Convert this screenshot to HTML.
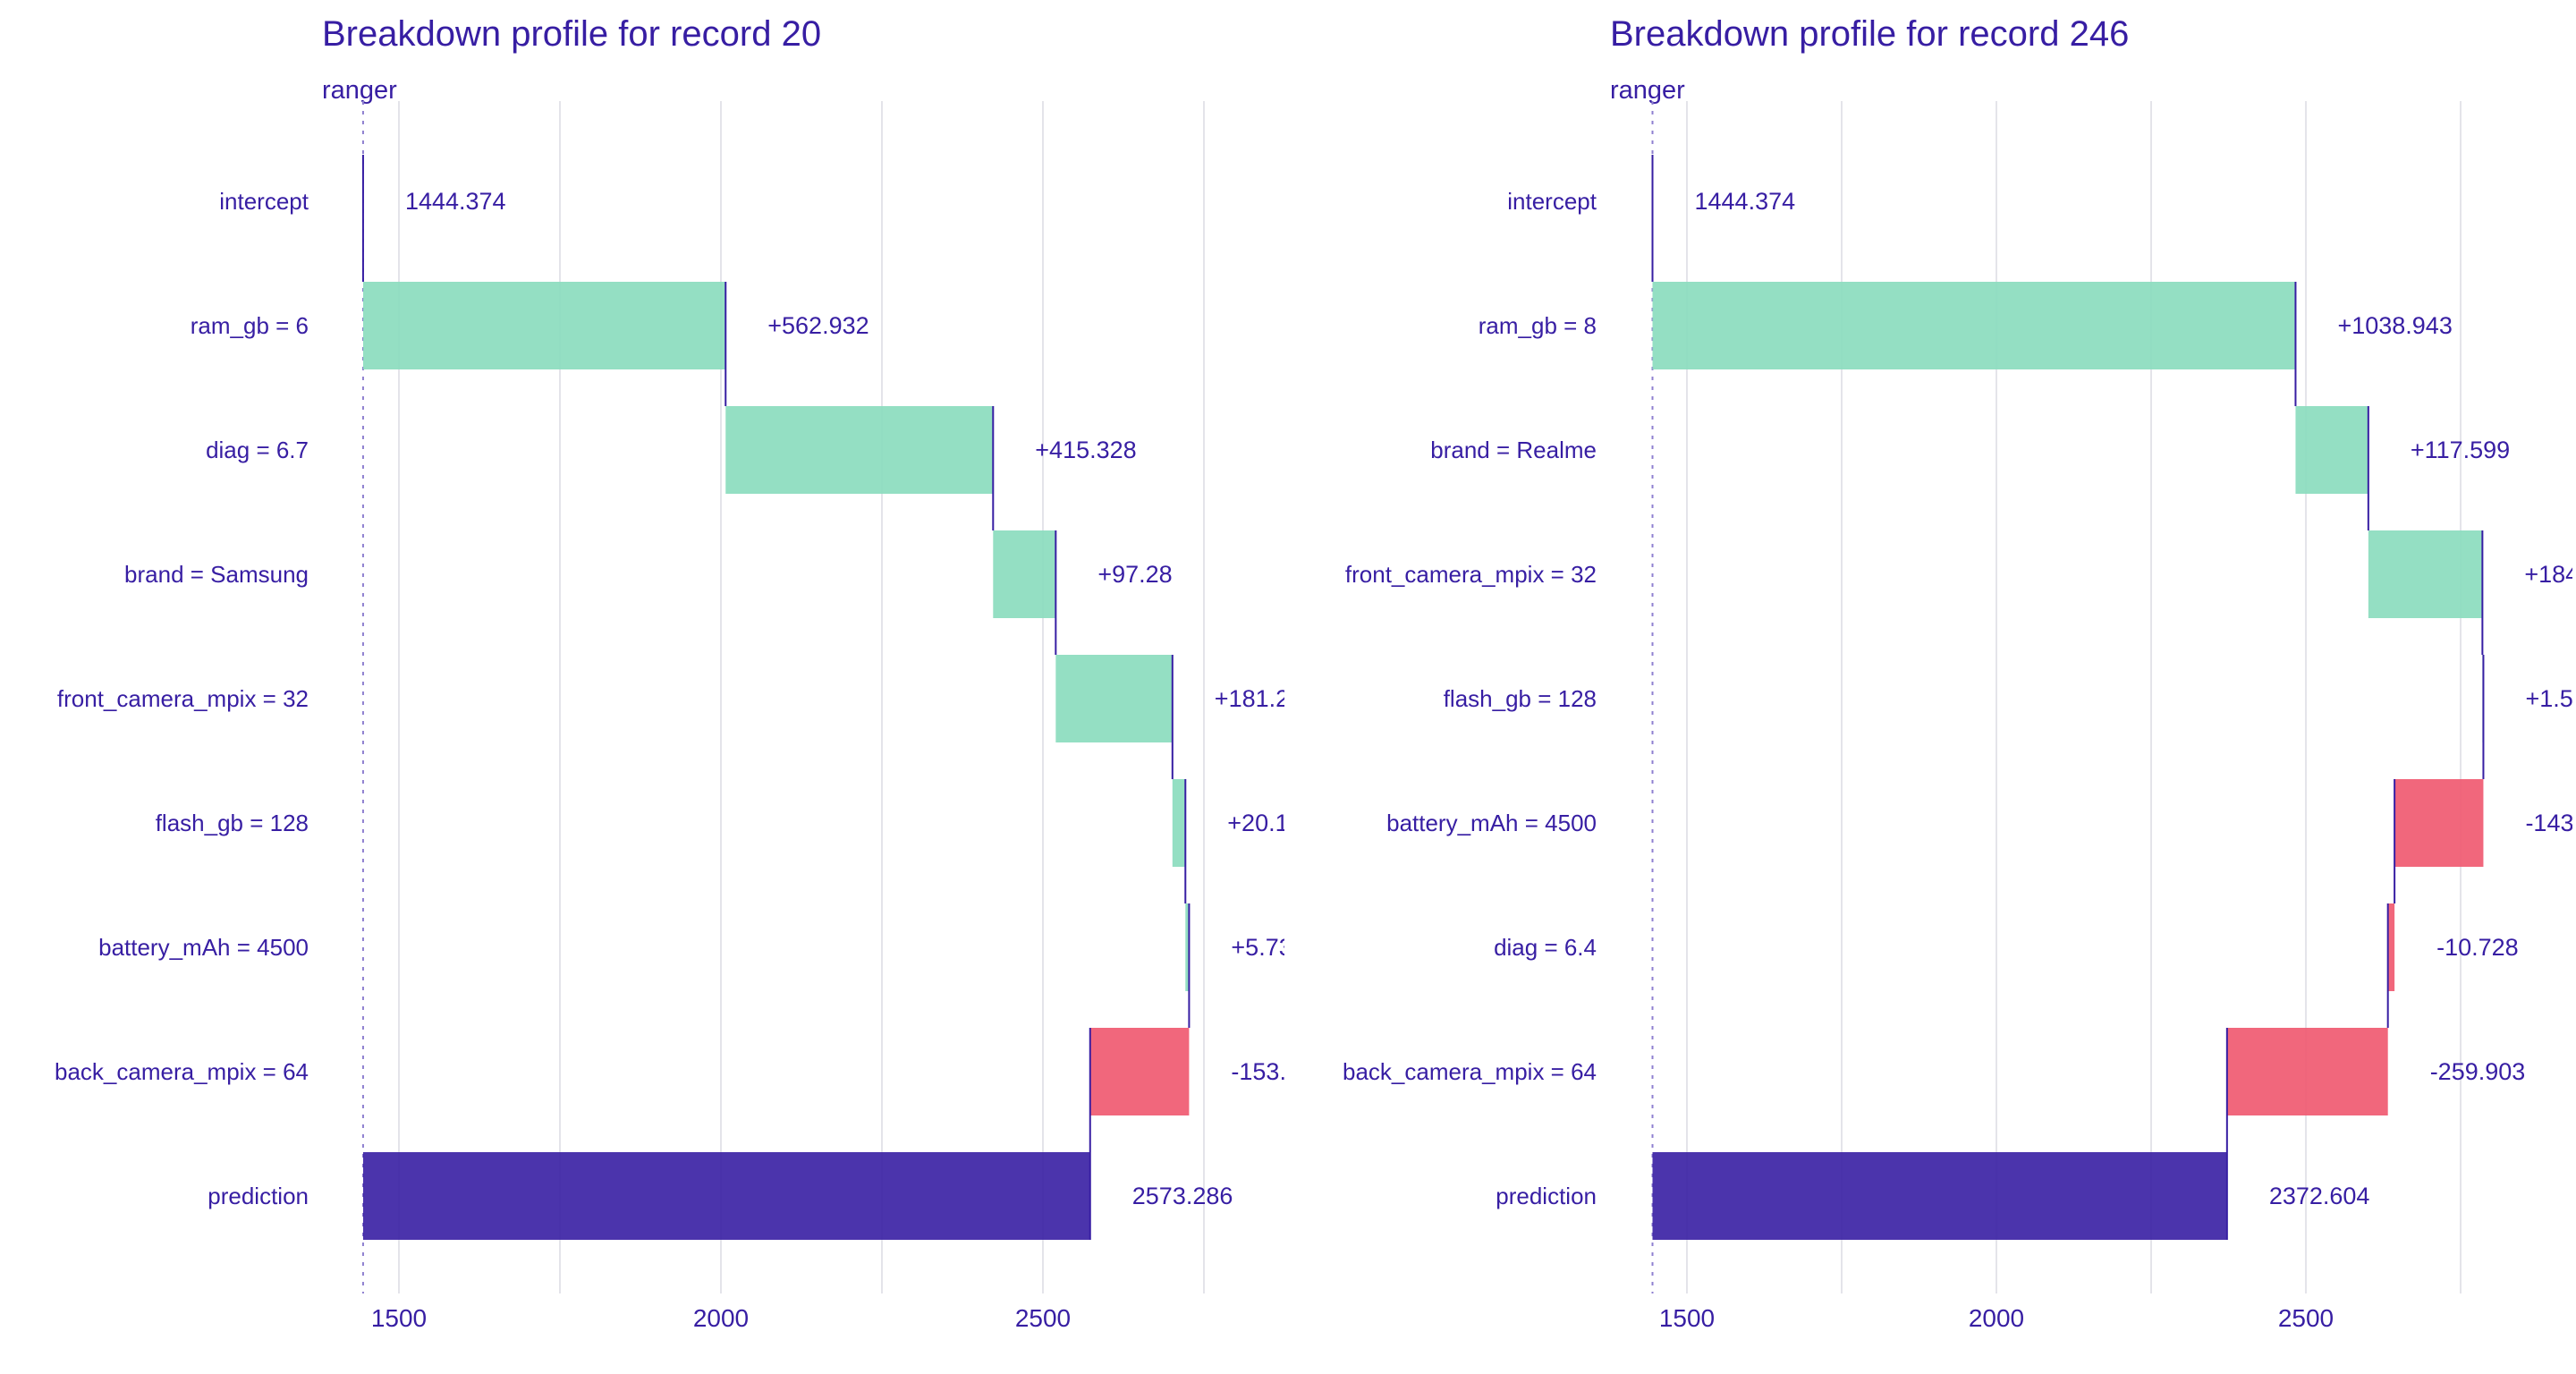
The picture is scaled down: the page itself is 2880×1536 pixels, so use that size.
<!DOCTYPE html>
<html><head><meta charset="utf-8"><style>
html,body{margin:0;padding:0;background:#fff;}
svg{display:block;font-family:"Liberation Sans",Arial,sans-serif;}
</style></head><body>
<svg id="chart" width="2880" height="1536" viewBox="0 0 2880 1536"></svg>
<script>
// Panel 1 data (record 20)
const labels1 = ["intercept","ram_gb = 6","diag = 6.7","brand = Samsung","front_camera_mpix = 32","flash_gb = 128","battery_mAh = 4500","back_camera_mpix = 64","prediction"];
const values1 = [1444.374, 562.932, 415.328, 97.28, 181.214, 20.108, 5.731, -153.681, 2573.286];
const texts1 = ["1444.374","+562.932","+415.328","+97.28","+181.214","+20.108","+5.731","-153.681","2573.286"];
// Panel 2 data (record 246)
const labels2 = ["intercept","ram_gb = 8","brand = Realme","front_camera_mpix = 32","flash_gb = 128","battery_mAh = 4500","diag = 6.4","back_camera_mpix = 64","prediction"];
const values2 = [1444.374, 1038.943, 117.599, 184.3, 1.55, -143.531, -10.728, -259.903, 2372.604];
const texts2 = ["1444.374","+1038.943","+117.599","+184.3","+1.55","-143.531","-10.728","-259.903","2372.604"];
const ticks = [1500, 2000, 2500];
const grid = [1500, 1750, 2000, 2250, 2500, 2750];

const NS = "http://www.w3.org/2000/svg";
const svg = document.getElementById("chart");
function mk(tag, attrs, parent){const e=document.createElementNS(NS,tag);for(const k in attrs)e.setAttribute(k,attrs[k]);parent.appendChild(e);return e;}

function panel(ox, width, title, labels, values, texts, x1500, pxPerUnit, id){
  const g = mk("g", {}, svg);
  
  
  const clipId = "clip" + id;
  const cp = mk("clipPath", {id: clipId}, g);
  mk("rect", {x: ox, y: 0, width: width - 4, height: 1536}, cp);
  const x = v => ox + x1500 + (v - 1500) * pxPerUnit;
  const rowY = i => 225 + i * 139;
  const BH = 98;
  const t = mk("text", {x: ox + 360, y: 51, "font-size": 40, fill: "#371ea3"}, g);
  t.textContent = title;
  
  
  const s = mk("text", {x: ox + 360, y: 110, "font-size": 29, fill: "#371ea3"}, g);
  s.textContent = "ranger";
  
  
  const plot = mk("g", {"clip-path": "url(#" + clipId + ")"}, g);
  grid.forEach(v => {
    const l = mk("line", {x1: x(v), x2: x(v), y1: 113, y2: 1446, stroke: "#e4e4ea", "stroke-width": 2}, plot);
    
    
  });
  const base = values[0];
  const dl = mk("line", {x1: x(base), x2: x(base), y1: 113, y2: 1446, stroke: "#8f80d0", "stroke-width": 2, "stroke-dasharray": "4,7"}, plot);
  
  
  let cum = base;
  const n = labels.length;
  for (let i = 0; i < n; i++) {
    let start, end, fill;
    if (i === 0) { start = base; end = base; fill = "#371ea3"; }
    else if (i === n - 1) { start = base; end = values[i]; fill = "#371ea3"; }
    else { start = cum; end = cum + values[i]; fill = values[i] >= 0 ? "#8bdcbe" : "#f05a71"; cum = end; }
    const y0 = rowY(i) - BH / 2;
    const xa = Math.min(x(start), x(end)), xb = Math.max(x(start), x(end));
    if (i === 0) {
      const il = mk("line", {x1: x(base), x2: x(base), y1: y0 - 3, y2: rowY(1) - BH / 2, stroke: "#371ea3", "stroke-width": 2}, plot);
      
      
    } else {
      const r = mk("rect", {x: xa, y: y0, width: Math.max(xb - xa, 1), height: BH, fill: fill, "fill-opacity": i === n - 1 ? 0.9 : 0.92}, plot);
      
      
      const endX = x(end);
      if (i < n - 1) {
        const c = mk("line", {x1: endX, x2: endX, y1: y0, y2: rowY(i + 1) - BH / 2, stroke: "#371ea3", "stroke-width": 2}, plot);
        
        
      } else {
        const c = mk("line", {x1: endX, x2: endX, y1: y0, y2: y0 + BH, stroke: "#371ea3", "stroke-width": 2}, plot);
        
        
      }
    }
    const vx = (i === 0 ? x(base) : Math.max(x(start), x(end))) + 47;
    const vt = mk("text", {x: vx, y: rowY(i) + 9, "font-size": 27, fill: "#371ea3"}, plot);
    vt.textContent = texts[i];
    
    
    const lt = mk("text", {x: ox + 345, y: rowY(i) + 9, "font-size": 26, fill: "#371ea3", "text-anchor": "end"}, g);
    lt.textContent = labels[i];
    
    
  }
  ticks.forEach(v => {
    const tt = mk("text", {x: x(v), y: 1483, "font-size": 28, fill: "#371ea3", "text-anchor": "middle"}, g);
    tt.textContent = v;
    
    
  });
}
panel(0, 1440, "Breakdown profile for record 20", labels1, values1, texts1, 446, 0.72, "record-20");
panel(1440, 1440, "Breakdown profile for record 246", labels2, values2, texts2, 446, 0.692, "record-246");
</script>
</body></html>
